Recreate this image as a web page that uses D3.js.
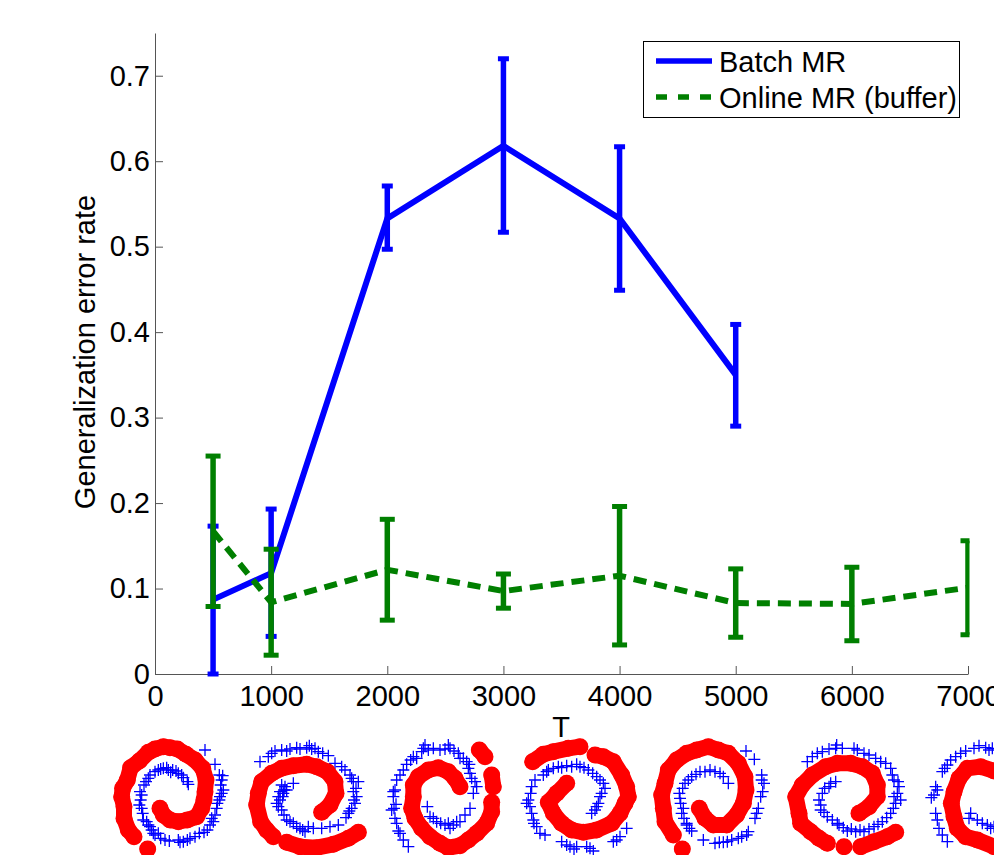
<!DOCTYPE html>
<html>
<head>
    <meta charset="utf-8">
    <title>Generalization error rate</title>
    <script src="https://d3js.org/d3.v7.min.js"></script>
    <style>
        html, body { margin: 0; padding: 0; background: #fff; overflow: hidden; }
        text { font-family: "Liberation Sans", Arial, sans-serif; fill: #000; }
    </style>
</head>
<body>
    <svg width="994" height="855"></svg>

    <script>
        // values
        var batchT = [500, 1000, 2000, 3000, 4000, 5000];
        var batchMean = [0.087, 0.118, 0.533, 0.618, 0.533, 0.35];
        var batchLow = [0, 0.044, 0.497, 0.517, 0.449, 0.29];
        var batchHigh = [0.173, 0.193, 0.571, 0.72, 0.617, 0.409];

        var onlineT = [500, 1000, 2000, 3000, 4000, 5000, 6000, 7000];
        var onlineMean = [0.167, 0.084, 0.122, 0.097, 0.115, 0.083, 0.082, 0.101];
        var onlineLow = [0.079, 0.022, 0.063, 0.077, 0.034, 0.043, 0.039, 0.046];
        var onlineHigh = [0.255, 0.146, 0.181, 0.117, 0.196, 0.123, 0.125, 0.156];

        var xTicks = [0, 1000, 2000, 3000, 4000, 5000, 6000, 7000];
        var yTicks = [0, 0.1, 0.2, 0.3, 0.4, 0.5, 0.6, 0.7];

        // two-class spiral thumbnails, points in each thumbnail's own units
        var spiralOrigins = [100, 100, 380, 380, 640, 694, 694];

        // red class: each thumbnail is a list of unbroken runs
        var spiralRed = [
            [
                [[180,250],[190,270],[210,285],[235,290],[262,285],[290,275],[305,250],[312,225],[315,200],[318,165],[308,130],[285,105],[258,88],[232,72],[210,68],[190,65],[165,72],[145,82],[118,108],[92,128],[82,165],[68,190],[65,215],[72,245],[72,280],[85,315],[102,335]],
                [[143,372]]
            ],
            [
                [[665,262],[690,240],[708,205],[705,170],[682,140],[650,125],[620,118],[580,122],[545,130],[515,145],[485,170],[475,205],[470,240],[482,290],[500,315],[520,335]],
                [[560,352],[600,365],[650,368],[700,358],[745,340],[775,322]]
            ],
            [
                [[240,185],[225,160],[205,140],[175,128],[145,135],[115,155],[100,180],[100,215],[95,250],[105,280],[125,310],[150,335],[180,355],[205,368],[240,362],[265,345],[290,325],[320,295],[335,260],[335,232]],
                [[340,185],[335,150]],
                [[315,95],[298,75]]
            ],
            [
                [[560,175],[530,205],[505,232],[520,265],[545,295],[575,315],[610,322],[650,315],[695,295],[720,265],[735,235],[745,215],[740,185],[725,150],[700,110],[670,95],[645,90]],
                [[600,65],[565,70],[520,80],[490,88],[458,110]]
            ],
            [
                [[178,250],[195,280],[220,300],[260,300],[290,270],[310,235],[318,195],[315,155],[295,115],[265,85],[235,75],[205,65],[170,75],[140,85],[110,105],[85,135],[75,175],[65,210],[70,250],[75,290],[100,330]],
                [[127,372]]
            ],
            [
                [[495,265],[525,245],[550,215],[550,180],[535,145],[505,125],[470,115],[430,115],[395,125],[355,150],[325,180],[305,215],[315,265],[320,295],[350,320],[375,340],[400,355]],
                [[450,365]],
                [[500,365],[540,350],[580,335],[605,322]]
            ],
            [
                [[900,138],[860,125],[820,130],[795,160],[780,200],[772,235],[780,275],[790,310],[815,335],[850,345],[900,365]]
            ]
        ];

        // blue class
        var spiralBlue = [
            [[315,75],[345,118],[358,150],[368,152],[362,180],[365,205],[358,225],[350,250],[345,270],[340,290],[322,315],[298,325],[285,335],[262,345],[250,350],[235,345],[208,348],[182,340],[175,325],[155,315],[145,300],[130,285],[125,250],[122,225],[120,200],[132,180],[145,160],[150,150],[175,135],[190,130],[205,135],[218,135],[235,145],[250,158],[265,178],[140,290],[160,325],[360,215],[335,280],[270,340],[365,165],[370,195],[352,235],[330,300],[312,322],[240,352],[195,345],[165,330],[150,305],[128,265],[118,240],[125,210],[138,170],[165,140],[182,132],[200,128],[212,142],[228,138],[245,150],[262,170]],
            [[480,110],[505,95],[525,78],[545,75],[570,72],[600,72],[620,68],[635,72],[655,80],[685,92],[705,115],[725,125],[750,150],[760,170],[775,170],[760,200],[770,215],[765,235],[755,250],[745,265],[738,278],[580,175],[555,185],[550,205],[540,225],[530,235],[545,255],[560,285],[580,295],[600,310],[615,320],[640,310],[665,310],[690,305],[715,300],[548,215],[560,195],[515,85],[560,78],[590,68],[628,62],[645,70],[668,85],[735,135],[755,160],[768,190],[762,225],[748,258],[552,195],[535,215],[535,245],[552,270],[570,290],[590,305],[608,315],[625,305],[545,180],[540,200]],
            [[130,70],[160,70],[210,70],[180,75],[235,85],[260,110],[265,130],[275,160],[290,185],[280,205],[110,100],[80,118],[60,150],[50,165],[45,195],[40,215],[42,250],[45,280],[55,318],[70,345],[85,365],[142,245],[150,275],[170,290],[195,300],[220,300],[240,290],[255,270],[270,250],[125,80],[100,95],[240,100],[205,60],[135,60],[145,75],[195,72],[222,78],[250,100],[268,118],[270,145],[285,170],[92,105],[70,135],[40,200],[48,238],[35,255],[50,295],[60,325],[160,280],[182,295],[205,295],[230,290],[210,310]],
            [[455,185],[445,225],[455,265],[470,305],[495,330],[465,165],[490,150],[520,130],[545,128],[575,125],[600,125],[625,135],[650,155],[670,175],[675,190],[660,215],[650,245],[635,265],[545,350],[570,365],[590,365],[630,370],[710,345],[740,310],[720,335],[460,285],[440,235],[500,140],[452,205],[450,245],[462,295],[480,325],[505,135],[535,125],[560,122],[590,118],[612,128],[638,145],[660,165],[665,205],[655,235],[645,255],[560,360],[582,372],[620,365],[640,378],[700,350]],
            [[318,78],[343,103],[365,150],[372,175],[362,215],[355,250],[345,280],[325,320],[295,340],[275,345],[250,352],[225,355],[190,345],[155,318],[140,295],[125,265],[122,235],[118,205],[135,175],[155,155],[180,140],[210,135],[240,145],[265,175],[365,165],[130,250],[140,300],[368,200],[350,265],[320,330],[305,335],[262,350],[238,352],[148,310],[132,280],[120,220],[128,190],[145,165],[168,148],[195,140],[225,140],[250,155]],
            [[340,110],[355,95],[385,80],[425,70],[445,70],[490,75],[525,90],[560,110],[590,130],[600,165],[615,185],[610,205],[605,235],[590,265],[565,290],[540,305],[510,320],[485,320],[460,318],[435,300],[400,275],[380,240],[385,205],[410,175],[425,170],[430,295],[380,255],[620,225],[370,85],[405,72],[428,60],[480,70],[510,85],[545,100],[575,115],[595,150],[612,170],[600,215],[598,250],[578,278],[552,298],[525,312],[498,315],[472,312],[448,308],[415,285],[390,262],[375,225],[392,190],[405,185]],
            [[720,210],[725,185],[745,140],[770,105],[800,85],[840,70],[875,68],[895,70],[725,265],[735,310],[760,350],[830,265],[850,285],[880,300],[900,305],[760,120],[712,218],[730,195],[752,130],[785,95],[815,78],[855,62],[885,75],[730,285],[745,330],[825,280],[865,295],[890,310]]
        ];

        var blue = "#0000ff", green = "#007f00";

        var svg = d3.select("svg");
        var x = d3.scaleLinear().domain([0, 7000]).range([155, 968]);
        var y = d3.scaleLinear().domain([0, 0.75]).range([674, 33]);

        svg.append("defs").append("clipPath").attr("id", "plot")
            .append("rect")
            .attr("x", 150).attr("y", 20).attr("width", 819.5).attr("height", 670);

        // axes
        svg.append("g")
            .attr("transform", "translate(0,674)")
            .call(d3.axisBottom(x).tickValues(xTicks).tickFormat(d3.format("d")).tickSizeInner(-8).tickSizeOuter(0).tickPadding(11));
        svg.append("g")
            .attr("transform", "translate(155,0)")
            .call(d3.axisLeft(y).tickValues(yTicks).tickFormat(function (d) { return d === 0 ? "0" : d3.format(".1f")(d); }).tickSizeInner(-8).tickSizeOuter(0).tickPadding(5));
        svg.selectAll(".domain, .tick line").attr("stroke", "#555").attr("stroke-width", 1);
        svg.selectAll(".tick text").attr("font-size", 29).attr("font-family", null);

        // series
        function drawSeries(ts, mean, low, high, color, capWidth, dash) {
            var g = svg.append("g").attr("clip-path", "url(#plot)");
            var line = d3.line()
                .x(function (d) { return x(d); })
                .y(function (d, i) { return y(mean[i]); });

            g.append("path")
                .attr("d", line(ts))
                .attr("fill", "none")
                .attr("stroke", color)
                .attr("stroke-width", 6)
                .attr("stroke-dasharray", dash);

            g.selectAll(".bar").data(ts).enter().append("line")
                .attr("x1", function (d) { return x(d); })
                .attr("x2", function (d) { return x(d); })
                .attr("y1", function (d, i) { return y(low[i]); })
                .attr("y2", function (d, i) { return y(high[i]); })
                .attr("stroke", color).attr("stroke-width", 5.5);

            [low, high].forEach(function (ends) {
                g.selectAll(".cap").data(ts).enter().append("line")
                    .attr("x1", function (d) { return x(d) - capWidth / 2; })
                    .attr("x2", function (d) { return x(d) + capWidth / 2; })
                    .attr("y1", function (d, i) { return y(ends[i]); })
                    .attr("y2", function (d, i) { return y(ends[i]); })
                    .attr("stroke", color).attr("stroke-width", 5);
            });
        }
        drawSeries(batchT, batchMean, batchLow, batchHigh, blue, 11, null);
        drawSeries(onlineT, onlineMean, onlineLow, onlineHigh, green, 15, "13,8");

        // axis titles
        svg.append("text").attr("x", 561).attr("y", 737)
            .attr("text-anchor", "middle").attr("font-size", 29).text("T");
        svg.append("text")
            .attr("transform", "translate(95,352) rotate(-90)")
            .attr("text-anchor", "middle").attr("font-size", 29).text("Generalization error rate");

        // legend
        var legend = svg.append("g");
        legend.append("rect")
            .attr("x", 643.5).attr("y", 41.5).attr("width", 316).attr("height", 76)
            .attr("fill", "#fff").attr("stroke", "#000").attr("stroke-width", 1);
        legend.append("line").attr("x1", 656).attr("x2", 712).attr("y1", 61).attr("y2", 61)
            .attr("stroke", blue).attr("stroke-width", 5.5);
        legend.append("line").attr("x1", 656).attr("x2", 712).attr("y1", 97).attr("y2", 97)
            .attr("stroke", green).attr("stroke-width", 5.5).attr("stroke-dasharray", "11,11");
        legend.append("text").attr("x", 719).attr("y", 72).attr("font-size", 29).text("Batch MR");
        legend.append("text").attr("x", 719).attr("y", 108).attr("font-size", 29).text("Online MR (buffer)");

        // spiral thumbnails
        spiralOrigins.forEach(function (origin, i) {
            var px = d3.scaleLinear().domain([0, 3]).range([origin, origin + 1]);
            var py = d3.scaleLinear().domain([0, 3]).range([725, 726]);
            var g = svg.append("g");
            var run = d3.line()
                .x(function (d) { return px(d[0]); })
                .y(function (d) { return py(d[1]); });

            g.selectAll(".plus").data(spiralBlue[i]).enter().append("path")
                .attr("d", "M-6,0H6M0,-6V6")
                .attr("transform", function (d) { return "translate(" + px(d[0]) + "," + py(d[1]) + ")"; })
                .attr("stroke", blue).attr("stroke-width", 1.3).attr("fill", "none");

            spiralRed[i].forEach(function (points) {
                g.append("path")
                    .attr("d", run(points))
                    .attr("fill", "none")
                    .attr("stroke", "#ff0000")
                    .attr("stroke-width", 16)
                    .attr("stroke-linejoin", "round")
                    .attr("stroke-linecap", "round");
                g.selectAll(".dot").data(points).enter().append("circle")
                    .attr("cx", function (d) { return px(d[0]); })
                    .attr("cy", function (d) { return py(d[1]); })
                    .attr("r", 8.5)
                    .attr("fill", "#ff0000");
            });
        });
    </script>
</body>
</html>
